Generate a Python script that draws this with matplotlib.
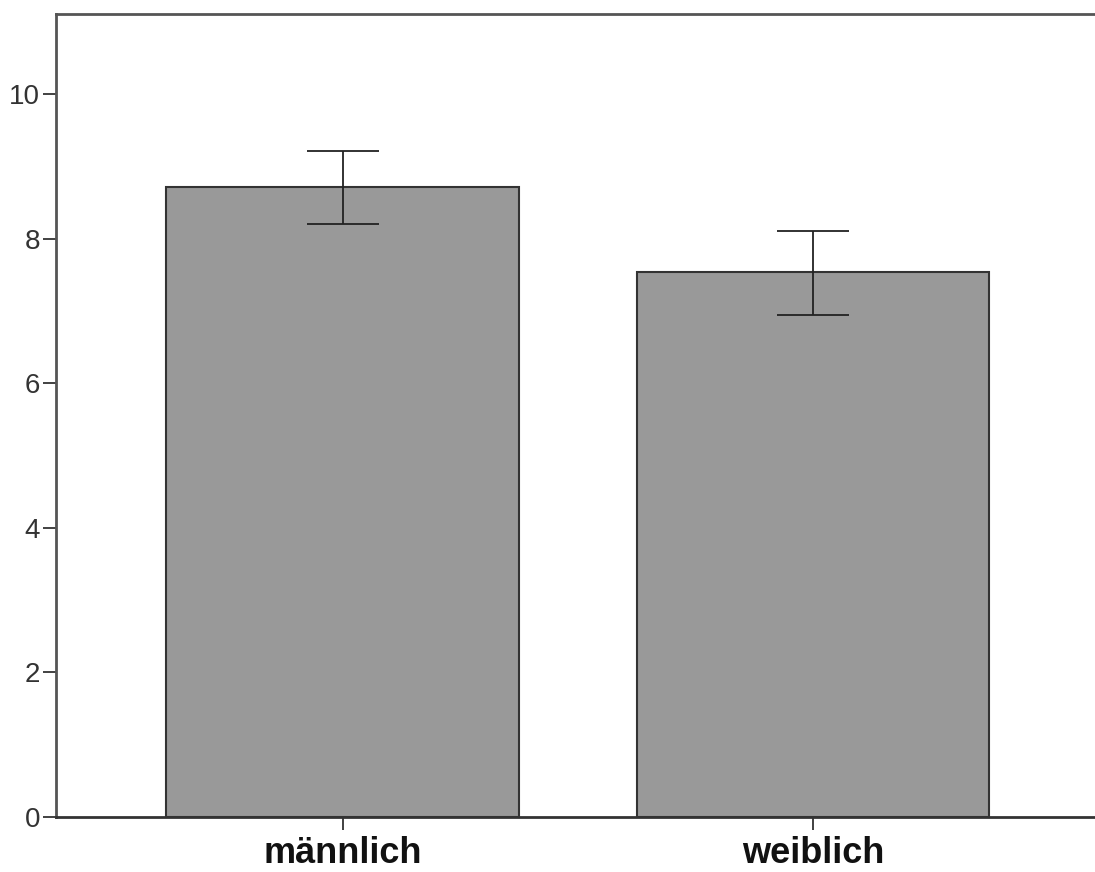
import matplotlib
matplotlib.use("Agg")
import matplotlib.pyplot as plt

categories = ["männlich", "weiblich"]
means = [8.71, 7.54]
err_low = [8.20, 6.95]
err_high = [9.22, 8.10]
yticks = [0, 2, 4, 6, 8, 10]

fig = plt.figure(figsize=(10.95, 8.72), dpi=100)
ax = fig.add_axes([56/1095, (872-816.7)/872, 1043.6/1095, (816.7-14)/872])

pos = list(range(len(categories)))
ax.bar(pos, means, width=0.75, color="#999999", edgecolor="#333333", linewidth=1.5, zorder=2)
lower = [m - l for m, l in zip(means, err_low)]
upper = [h - m for m, h in zip(means, err_high)]
ax.errorbar(pos, means, yerr=[lower, upper], fmt="none", ecolor="#222222",
            elinewidth=1.3, capsize=25.9, capthick=1.3, zorder=3)

ax.set_xlim(-0.609, 1.609)
ax.set_ylim(0, 11.11)
ax.set_yticks(yticks)
ax.set_yticklabels([str(t) for t in yticks], fontsize=20, color="#333333",
                   family=["Liberation Sans", "DejaVu Sans"])
ax.set_xticks(pos)
ax.set_xticklabels(categories, fontsize=26, fontweight="bold", color="#111111",
                   family=["Liberation Sans", "DejaVu Sans"])
ax.tick_params(axis="x", length=9.5, width=1.3, color="#333333", pad=4.5)
ax.tick_params(axis="y", length=9.5, width=1.3, color="#333333", pad=2)

for side in ["left", "top", "bottom", "right"]:
    ax.spines[side].set_color("#555555")
    ax.spines[side].set_linewidth(2)
ax.spines["bottom"].set_color("#333333")

fig.savefig("out.png", dpi=100)
